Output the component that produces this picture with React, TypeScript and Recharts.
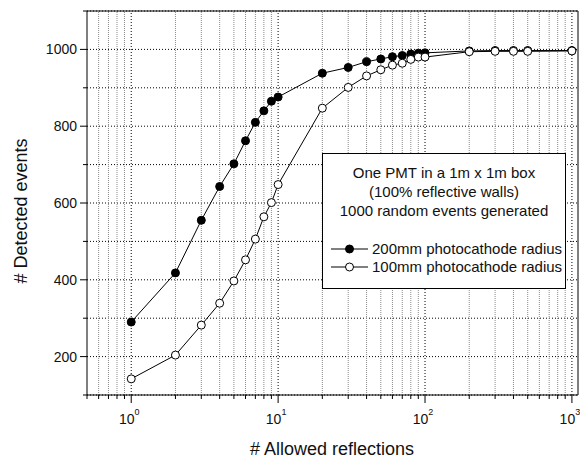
import React from "react"
import { LineChart, Line, XAxis, YAxis, CartesianGrid, ReferenceLine, Legend } from "recharts"

// # allowed reflections (x, log scale)
const reflections = [1, 2, 3, 4, 5, 6, 7, 8, 9, 10, 20, 30, 40, 50, 60, 70, 80, 90, 100, 200, 300, 400, 500, 1000]
// detected events out of 1000
const detected200mm = [290, 418, 555, 643, 702, 762, 810, 840, 865, 876, 938, 953, 968, 975, 981, 984, 988, 990, 991, 996, 997, 997, 997, 997]
const detected100mm = [142, 204, 282, 339, 397, 452, 506, 564, 601, 648, 847, 901, 931, 947, 959, 964, 974, 980, 980, 994, 995, 995, 995, 996]

const majorX = [1, 10, 100, 1000]
const minorX = [0.5, 0.6, 0.7, 0.8, 0.9, 2, 3, 4, 5, 6, 7, 8, 9, 20, 30, 40, 50, 60, 70, 80, 90, 200, 300, 400, 500, 600, 700, 800, 900]
const yTicks = [100, 200, 300, 400, 500, 600, 700, 800, 900, 1000, 1100]
const yLabels = [200, 400, 600, 800, 1000]

const legendTitle = ["One PMT in a 1m x 1m box", "(100% reflective walls)", "1000 random events generated"]
const legendOrder = ["r200", "r100"]

const rows = reflections.map((x, i) => ({ x, r200: detected200mm[i], r100: detected100mm[i] }))
const xTicks = [...minorX, ...majorX].sort((a, b) => a - b)

const FONT = "'Liberation Sans', Arial, Helvetica, sans-serif"
const INK = "#000"
const TEXT = "#111"
const markerFill: Record<string, string> = { r200: "#000", r100: "#fff" }

function BottomTick(props: any) {
  const { x, y, payload } = props
  const v = payload.value as number
  const major = majorX.includes(v)
  return (
    <g>
      <line x1={x} x2={x} y1={y} y2={y + (major ? 8 : 4)} stroke={INK} />
      {major && (
        <text x={x - 2} y={y + 29} textAnchor="middle" fontSize={14} fill={TEXT} fontFamily={FONT}>
          10
          <tspan dy={-9} fontSize={9}>
            {Math.round(Math.log10(v))}
          </tspan>
        </text>
      )}
    </g>
  )
}

function TopTick(props: any) {
  const { x, y, payload } = props
  const major = majorX.includes(payload.value)
  return <line x1={x} x2={x} y1={y} y2={y - (major ? 8 : 4)} stroke={INK} />
}

function LeftTick(props: any) {
  const { x, y, payload } = props
  const v = payload.value as number
  const major = yLabels.includes(v)
  const len = major ? 7 : 4
  return (
    <g>
      <line x1={x} x2={x - len} y1={y} y2={y} stroke={INK} />
      {major && (
        <text x={x - len - 3} y={y} dy={5} textAnchor="end" fontSize={14} fill={TEXT} fontFamily={FONT}>
          {v}
        </text>
      )}
    </g>
  )
}

function RightTick(props: any) {
  const { x, y, payload } = props
  const len = yLabels.includes(payload.value) ? 7 : 4
  return <line x1={x} x2={x + len} y1={y} y2={y} stroke={INK} />
}

function LegendBox(props: any) {
  const payload = [...(props.payload || [])].sort(
    (a: any, b: any) => legendOrder.indexOf(a.dataKey) - legendOrder.indexOf(b.dataKey),
  )
  return (
    <div
      style={{
        boxSizing: "border-box",
        width: 244,
        height: 136,
        border: "1px solid #000",
        background: "#fff",
        fontFamily: FONT,
        fontSize: 15,
        color: TEXT,
        paddingTop: 9,
      }}
    >
      {legendTitle.map((t) => (
        <div key={t} style={{ textAlign: "center", lineHeight: "19px", whiteSpace: "nowrap" }}>
          {t}
        </div>
      ))}
      <div style={{ marginTop: 20, paddingLeft: 8 }}>
        {payload.map((item: any) => (
          <div key={item.value} style={{ display: "flex", alignItems: "center", height: 18 }}>
            <svg width={37} height={18} style={{ display: "block" }}>
              <line x1={0} x2={37} y1={9} y2={9} stroke={INK} />
              <circle cx={18.5} cy={9} r={4} fill={markerFill[item.dataKey] ?? "#000"} stroke={INK} />
            </svg>
            <span style={{ marginLeft: 4, whiteSpace: "nowrap", lineHeight: "18px" }}>{item.value}</span>
          </div>
        ))}
      </div>
    </div>
  )
}

export default function App() {
  return (
    <div style={{ position: "absolute", left: 0, top: 0 }}>
      <LineChart width={580} height={461} data={rows} margin={{ top: 0, right: 0, bottom: 0, left: 0 }}>
        <CartesianGrid vertical={false} stroke={INK} strokeDasharray="1 2" />
        {minorX.slice(1).map((v) => (
          <ReferenceLine key={"m" + v} x={v} stroke="#8a8a8a" strokeDasharray="1 1" />
        ))}
        {majorX.map((v) => (
          <ReferenceLine key={"M" + v} x={v} stroke={INK} strokeDasharray="1 2" />
        ))}
        <XAxis
          dataKey="x"
          type="number"
          scale="log"
          domain={[0.5, 1100]}
          ticks={xTicks}
          interval={0}
          tickSize={0}
          tickMargin={0}
          tickLine={false}
          axisLine={{ stroke: INK }}
          height={66}
          tick={<BottomTick />}
          label={{
            content: () => (
              <text x={332} y={455} textAnchor="middle" fontSize={18} fill={TEXT} fontFamily={FONT}>
                # Allowed reflections
              </text>
            ),
          }}
        />
        <XAxis
          xAxisId="top"
          orientation="top"
          type="number"
          scale="log"
          domain={[0.5, 1100]}
          ticks={xTicks}
          interval={0}
          tickSize={0}
          tickMargin={0}
          tickLine={false}
          axisLine={{ stroke: INK }}
          height={11}
          tick={<TopTick />}
        />
        <YAxis
          type="number"
          domain={[100, 1100]}
          ticks={yTicks}
          interval={0}
          tickSize={0}
          tickMargin={0}
          tickLine={false}
          axisLine={{ stroke: INK }}
          width={87}
          tick={<LeftTick />}
          label={{
            content: () => (
              <text
                x={27}
                y={211}
                transform="rotate(-90, 27, 211)"
                textAnchor="middle"
                fontSize={18}
                fill={TEXT}
                fontFamily={FONT}
              >
                # Detected events
              </text>
            ),
          }}
        />
        <YAxis
          yAxisId="right"
          orientation="right"
          type="number"
          domain={[100, 1100]}
          ticks={yTicks}
          interval={0}
          tickSize={0}
          tickMargin={0}
          tickLine={false}
          axisLine={{ stroke: INK }}
          width={2}
          tick={<RightTick />}
        />
        <Legend
          layout="horizontal"
          verticalAlign="middle"
          align="center"
          wrapperStyle={{ left: 322, top: 153, width: 244, height: 136 }}
          content={<LegendBox />}
        />
        <Line
          type="linear"
          dataKey="r200"
          name="200mm photocathode radius"
          stroke={INK}
          strokeWidth={1}
          dot={{ r: 4, fill: "#000", stroke: INK, strokeWidth: 1 }}
          activeDot={false}
          isAnimationActive={false}
        />
        <Line
          type="linear"
          dataKey="r100"
          name="100mm photocathode radius"
          stroke={INK}
          strokeWidth={1}
          dot={{ r: 4, fill: "#fff", stroke: INK, strokeWidth: 1 }}
          activeDot={false}
          isAnimationActive={false}
        />
      </LineChart>
    </div>
  )
}
